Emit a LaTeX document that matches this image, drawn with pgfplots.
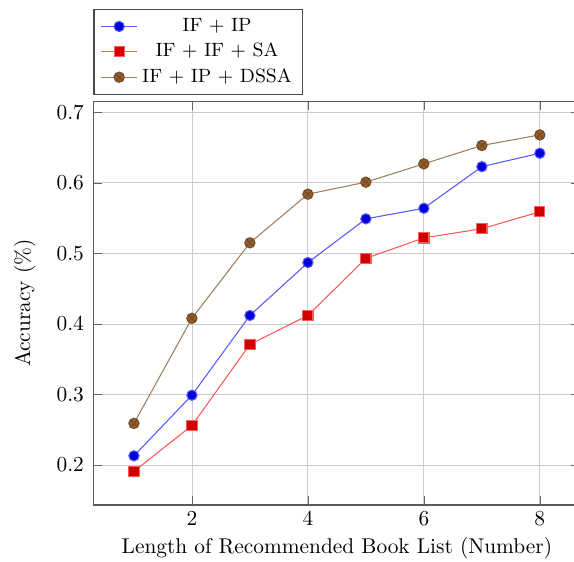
\documentclass[border=0pt]{standalone}
\usepackage{pgfplots}
\pgfplotsset{compat=1.18}
\definecolor{bline}{rgb}{0.35,0.35,1}
\definecolor{bmark}{rgb}{0,0,0.85}
\definecolor{rline}{rgb}{1,0.35,0.35}
\definecolor{rmark}{rgb}{0.82,0,0}
\definecolor{brline}{rgb}{0.62,0.5,0.38}
\definecolor{brmark}{rgb}{0.58,0.37,0.18}
\begin{document}
\begin{tikzpicture}
\begin{axis}[
  name=ax,
  scale only axis,
  width=228pt, height=189pt,
  xtick={2,4,6,8},
  xlabel={Length of Recommended Book List (Number)},
  ylabel={Accuracy (\%)},
  xlabel style={yshift=1pt},
  xticklabel style={yshift=0.5pt},
  yticklabel style={xshift=-0.9pt},
  ylabel style={yshift=3pt},
  grid=major,
  grid style={black!20},
  axis line style={black!65, line width=0.7pt},
  tick style={black!60},
  legend style={at={(0,1)}, anchor=south west, yshift=3pt,
    font=\small, draw=black!70, line width=0.6pt},
  legend cell align=center,
  mark size=2.4pt,
  every axis plot/.append style={line width=0.5pt},
]
\addplot[bline, mark=*, mark options={fill=bmark, draw=bline}] coordinates {
  (1,0.213) (2,0.299) (3,0.412) (4,0.487) (5,0.549) (6,0.564) (7,0.623) (8,0.642)
};
\addlegendentry{IF + IP}
\addplot[rline, mark=square*, mark options={fill=rmark, draw=rline}] coordinates {
  (1,0.191) (2,0.256) (3,0.371) (4,0.412) (5,0.493) (6,0.522) (7,0.535) (8,0.559)
};
\addlegendentry{IF + IF + SA}
\addplot[brline, mark=otimes*, mark options={fill=brmark, draw=brmark!80!black}] coordinates {
  (1,0.259) (2,0.408) (3,0.515) (4,0.584) (5,0.601) (6,0.627) (7,0.653) (8,0.668)
};
\addlegendentry{IF + IP + DSSA}
\end{axis}
\pgfresetboundingbox
\path[use as bounding box] ([xshift=-43.7pt,yshift=-26.3pt]ax.south west)
  rectangle ([xshift=-3pt,yshift=47.4pt]ax.north east);
\end{tikzpicture}
\end{document}
